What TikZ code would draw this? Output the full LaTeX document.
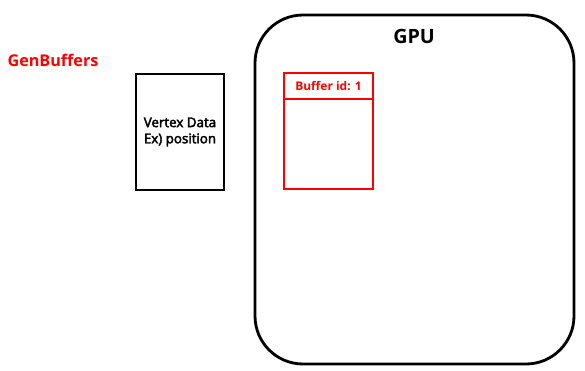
\documentclass[tikz,border=0pt]{standalone}
\usepackage{fontspec}
\setmainfont{Open Sans}
\newfontfamily\semifont[FakeBold=3]{Open Sans}
\usetikzlibrary{positioning}
\definecolor{bufred}{RGB}{255,0,0}
\begin{document}
\begin{tikzpicture}[
  x=0.025cm, y=-0.025cm,
  gpubox/.style={draw, line width=2pt, rounded corners=1.2cm},
  databox/.style={draw, line width=1.4pt, minimum width=2.2cm, minimum height=2.9cm, inner sep=0pt, align=center, font=\semifont\fontsize{9.5}{11.5}\selectfont},
  bufbox/.style={draw=bufred, line width=1.4pt},
  title/.style={font=\bfseries\fontsize{14}{16}\selectfont},
  redlabel/.style={text=bufred, font=\bfseries\fontsize{11.5}{13}\selectfont}
]
\useasboundingbox (0,0) rectangle (585,370);
% GPU
\draw[gpubox] (255,15) rectangle (574,364);
\node[title] (gpu) at (414,36) {GPU};
% left side
\node[redlabel] (gen) at (53,60) {GenBuffers};
\node[databox, anchor=north west] (vertex) at (135,73) {Vertex Data\\Ex) position};
% buffer
\draw[bufbox] (284,73) rectangle (373,189);
\draw[bufbox] (284,99) -- (373,99);
\node[text=bufred, font=\bfseries\fontsize{8.5}{10}\selectfont] (bufid) at (328.5,86.5) {Buffer id: 1};
\end{tikzpicture}
\end{document}
